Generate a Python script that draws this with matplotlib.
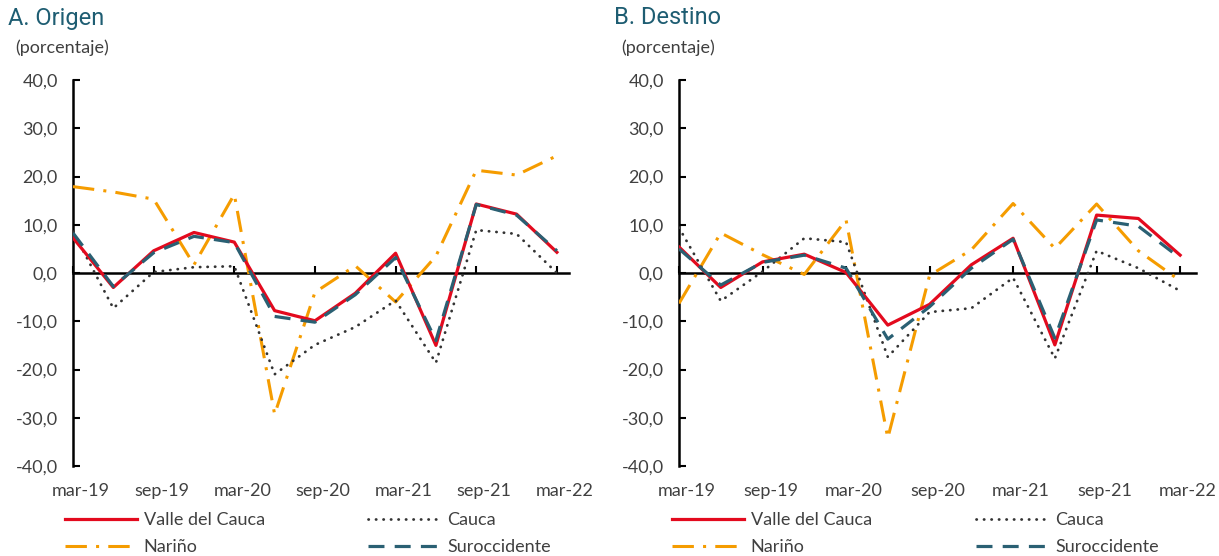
import numpy as np
import matplotlib.pyplot as plt
from matplotlib.transforms import ScaledTranslation
from matplotlib.ticker import FuncFormatter

plt.rcParams['font.family'] = ['Lato', 'DejaVu Sans']

# trimestres, de mar-19 a mar-22
quarters = ['mar-19', 'jun-19', 'sep-19', 'dic-19', 'mar-20', 'jun-20', 'sep-20',
            'dic-20', 'mar-21', 'jun-21', 'sep-21', 'dic-21', 'mar-22']
tick_labels = ['mar-19', 'sep-19', 'mar-20', 'sep-20', 'mar-21', 'sep-21', 'mar-22']
series_names = ['Valle del Cauca', 'Cauca', 'Nariño', 'Suroccidente']

# A. Origen
valle_o = [7.3, -3.0, 4.6, 8.4, 6.4, -7.8, -9.9, -4.2, 4.1, -15.0, 14.3, 12.2, 4.3]
cauca_o = [8.6, -7.3, 0.2, 1.2, 1.4, -21.0, -14.9, -11.2, -5.7, -18.6, 8.9, 8.1, 0.0]
narino_o = [17.9, 16.8, 15.3, 1.7, 16.3, -29.3, -4.0, 1.5, -6.0, 3.5, 21.3, 20.3, 24.3]
suro_o = [8.3, -2.8, 4.2, 7.6, 6.3, -9.0, -10.2, -4.5, 3.2, -14.0, 14.2, 12.0, 4.6]

# B. Destino
valle_d = [5.4, -3.0, 2.3, 3.9, 0.1, -10.8, -6.5, 1.7, 7.2, -14.9, 12.0, 11.3, 3.7]
cauca_d = [9.4, -5.8, 0.3, 7.2, 6.4, -17.4, -8.1, -7.3, -1.0, -17.7, 4.6, 1.0, -3.7]
narino_d = [-6.3, 8.3, 3.8, -0.3, 11.0, -34.2, -0.5, 4.8, 14.4, 5.1, 14.3, 4.6, -1.6]
suro_d = [5.0, -2.5, 2.2, 3.7, 1.0, -13.7, -7.0, 1.0, 7.0, -13.5, 11.0, 9.7, 3.1]

RED = '#e30a1e'
ORANGE = '#f59c00'
TEAL = '#2a6073'
DOT = '#333333'
TITLE = '#1e5d72'
TXT = '#404040'

W, H = 1219, 556
fig = plt.figure(figsize=(W / 100, H / 100), dpi=100)


def px_rect(x0, x1, y0, y1):
    # rectangulo en pixeles (y desde arriba) -> fracciones de figura
    return [x0 / W, 1 - y1 / H, (x1 - x0) / W, (y1 - y0) / H]


def draw_panel(rect, xmax, title, tx, data, leg_xy, colsp):
    ax = fig.add_axes(rect)
    x = np.arange(len(quarters))
    valle, cauca, narino, suro = data
    l_n, = ax.plot(x, narino, color=ORANGE, lw=2.2, dashes=(7, 3, 1, 3), zorder=3)
    l_c, = ax.plot(x, cauca, color=DOT, lw=2.0, dashes=(0.1, 2.6),
                   dash_capstyle='round', zorder=4)
    l_v, = ax.plot(x, valle, color=RED, lw=2.3, zorder=5)
    l_s, = ax.plot(x, suro, color=TEAL, lw=2.3, dashes=(5, 3.2), zorder=6)

    ax.set_xlim(0, xmax)
    ax.set_ylim(-40, 40)
    ax.set_yticks(np.arange(-40, 41, 10))
    ax.yaxis.set_major_formatter(FuncFormatter(lambda v, p: f'{v:.1f}'.replace('.', ',')))
    ax.tick_params(axis='y', direction='in', length=5, width=1.5, pad=11,
                   labelsize=13, labelcolor=TXT)

    for s in ['top', 'right']:
        ax.spines[s].set_visible(False)
    ax.spines['left'].set_linewidth(1.8)
    ax.spines['bottom'].set_position(('data', 0))
    ax.spines['bottom'].set_linewidth(1.8)
    ax.set_xticks(x[::2])
    ax.tick_params(axis='x', direction='in', length=5, width=1.5, labelbottom=False)

    sec = ax.secondary_xaxis('bottom')
    sec.set_xticks(x[::2], tick_labels)
    sec.spines['bottom'].set_visible(False)
    sec.tick_params(length=0, pad=12, labelsize=13, labelcolor=TXT)
    for lab in sec.get_xticklabels():
        lab.set_transform(lab.get_transform() + ScaledTranslation(0.08, 0, fig.dpi_scale_trans))

    fig.text(tx / W, 1 - 18 / H, title, fontsize=17, color=TITLE,
             family=['Roboto', 'DejaVu Sans'], va='center', ha='left')
    fig.text((tx + 7) / W, 1 - 48 / H, '(porcentaje)', fontsize=13, color=TXT,
             va='center', ha='left')

    fig.legend([l_v, l_n, l_c, l_s],
               [series_names[0], series_names[2], series_names[1], series_names[3]],
               ncol=2, loc='upper left', frameon=False,
               bbox_to_anchor=(leg_xy[0] / W, 1 - leg_xy[1] / H),
               fontsize=13, handlelength=4.0, handletextpad=0.35,
               columnspacing=colsp, labelspacing=0.6, borderpad=0,
               borderaxespad=0, labelcolor=TXT)
    return ax


draw_panel(px_rect(73, 569, 80, 466), 12.3, 'A. Origen', 8,
           (valle_o, cauca_o, narino_o, suro_o), (65, 512), 5.75)
draw_panel(px_rect(679, 1196, 80, 466), 12.38, 'B. Destino', 614,
           (valle_d, cauca_d, narino_d, suro_d), (672, 512), 5.8)

fig.savefig('out.png', dpi=100)
